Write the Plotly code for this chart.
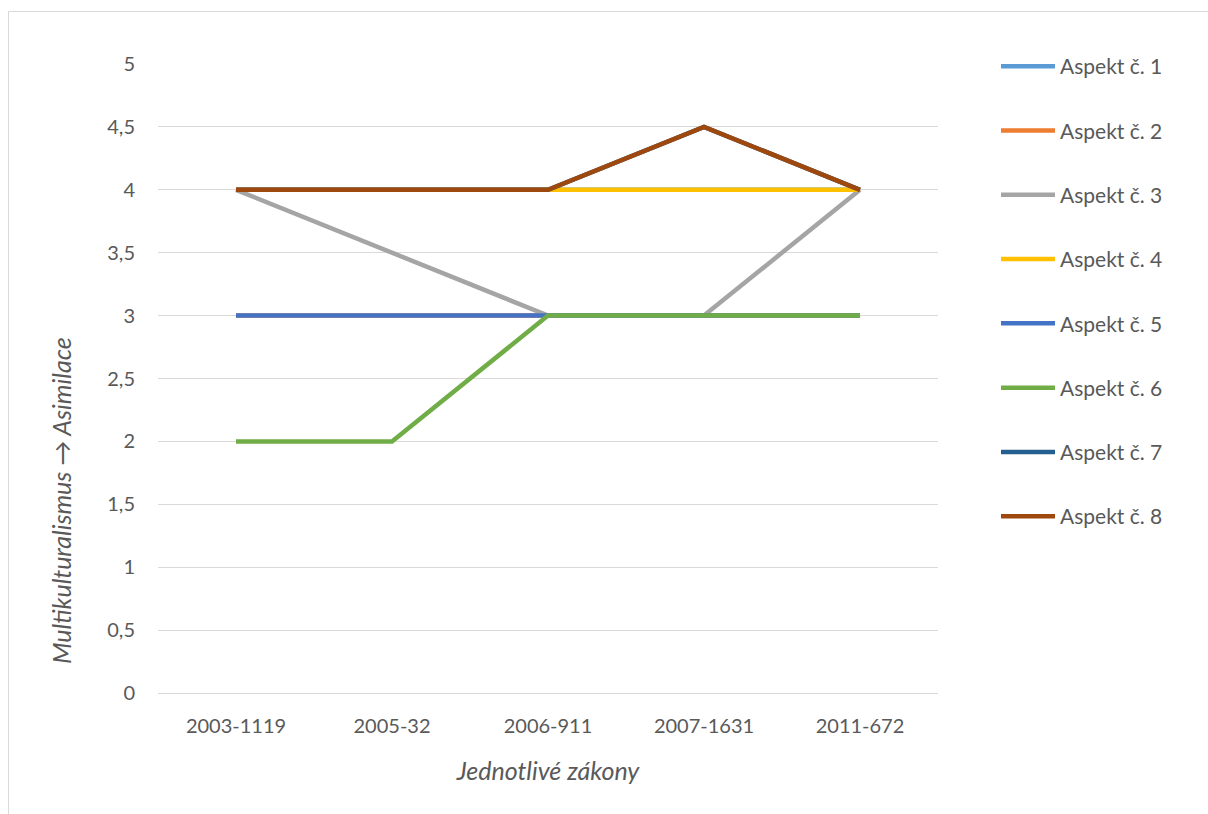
import plotly.graph_objects as go

categories = ["2003-1119", "2005-32", "2006-911", "2007-1631", "2011-672"]
series_names = ["Aspekt č. 1", "Aspekt č. 2", "Aspekt č. 3", "Aspekt č. 4",
                "Aspekt č. 5", "Aspekt č. 6", "Aspekt č. 7", "Aspekt č. 8"]
aspekt1 = [4, 4, 4, 4, 4]
aspekt2 = [3, 3, 3, 3, 3]
aspekt3 = [4, 3.5, 3, 3, 4]
aspekt4 = [4, 4, 4, 4, 4]
aspekt5 = [3, 3, 3, 3, 3]
aspekt6 = [2, 2, 3, 3, 3]
aspekt7 = [4, 4, 4, 4.5, 4]
aspekt8 = [4, 4, 4, 4.5, 4]
values = [aspekt1, aspekt2, aspekt3, aspekt4, aspekt5, aspekt6, aspekt7, aspekt8]
colors = ["#5B9BD5", "#ED7D31", "#A5A5A5", "#FFC000",
          "#4472C4", "#70AD47", "#255E91", "#9E480E"]
y_ticks = [0, 0.5, 1, 1.5, 2, 2.5, 3, 3.5, 4, 4.5, 5]
y_tick_text = ["0", "0,5", "1", "1,5", "2", "2,5", "3", "3,5", "4", "4,5", "5"]

FONT = "Lato"
TXT = "#595959"

fig = go.Figure()
for i, (name, vals, col) in enumerate(zip(series_names, values, colors)):
    fig.add_trace(go.Scatter(
        x=categories, y=vals, mode="lines", name=name,
        line=dict(color=col, width=4.5),
        legendgroup=str(i),
    ))

W, H = 1208, 814
L, R, T, B = 158, 270, 64, 121
pw, ph = W - L - R, H - T - B

fig.update_layout(
    width=W, height=H,
    margin=dict(l=L, r=R, t=T, b=B),
    paper_bgcolor="white", plot_bgcolor="white",
    font=dict(family=FONT, size=20, color=TXT),
    showlegend=True,
    legend=dict(
        x=(996 - L) / pw, xanchor="left",
        y=(693 - 46) / ph, yanchor="top",
        traceorder="grouped", tracegroupgap=34,
        font=dict(family=FONT, size=21, color=TXT),
        itemwidth=54, maxheight=700,
        bgcolor="rgba(0,0,0,0)",
    ),
    xaxis=dict(
        type="category", range=[-0.5, 4.5],
        showgrid=False, zeroline=False, showline=False,
        ticks="", ticklabelstandoff=19,
        tickfont=dict(family=FONT, size=20, color=TXT),
        title=dict(text="<i>Jednotlivé zákony</i>", standoff=26,
                   font=dict(family=FONT, size=25, color=TXT)),
    ),
    yaxis=dict(
        range=[0, 5], tickvals=y_ticks, ticktext=y_tick_text,
        showgrid=True, gridcolor="#D9D9D9", gridwidth=1,
        zeroline=True, zerolinecolor="#D9D9D9", zerolinewidth=1,
        showline=False, ticks="", ticklabelstandoff=22,
        tickfont=dict(family=FONT, size=20, color=TXT),
    ),
    annotations=[dict(
        text="<i>Multikulturalismus → Asimilace</i>",
        xref="paper", yref="paper",
        x=(61 - L) / pw, y=(693 - 501) / ph,
        xanchor="center", yanchor="middle", textangle=-90,
        showarrow=False, font=dict(family=FONT, size=25, color=TXT),
    )],
    shapes=[dict(
        type="rect", xref="paper", yref="paper", layer="below",
        x0=(8.5 - L) / pw, x1=(W + 10 - L) / pw,
        y0=(693 - (H + 10)) / ph, y1=(693 - 11.5) / ph,
        line=dict(color="#D9D9D9", width=1), fillcolor="rgba(0,0,0,0)",
    )],
)

fig.write_html("out.html")
